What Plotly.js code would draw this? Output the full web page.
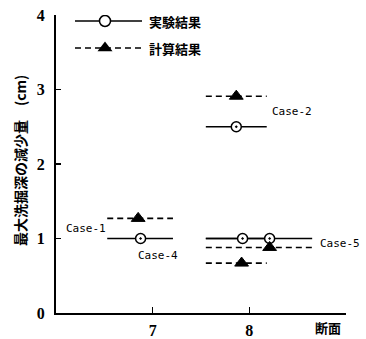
<!DOCTYPE html>
<html><head><meta charset="utf-8">
<script src="https://cdn.plot.ly/plotly-3.0.1.min.js"></script>
<style>html,body{margin:0;padding:0;background:#fff}</style>
</head><body><div id="chart" style="width:366px;height:339px"></div>
<script>
// Data
const cases      = ['Case-1', 'Case-2', 'Case-4', 'Case-5'];
const segStart   = [6.53, 7.55, 7.55, 7.55];
const segEnd     = [7.21, 8.18, 8.18, 8.65];
const expX       = [6.875, 7.865, 7.93, 8.21];
const expY       = [1.00, 2.50, 1.00, 1.00];
const calcX      = [6.85, 7.865, 7.92, 8.21];
const calcY      = [1.27, 2.91, 0.67, 0.88];
const xTickVals  = [7, 8];
const xTickText  = ['7', '8'];
const yTickVals  = [0, 1, 2, 3, 4];
const yTickText  = ['0', '1', '2', '3', '4'];
const legendNames = ['実験結果', '計算結果'];
const labelX = [6.31, 8.44, 7.06, 8.94];
const labelY = [1.13, 2.71, 0.77, 0.93];

function segs(ys) {
  const x = [], y = [];
  for (let i = 0; i < cases.length; i++) {
    x.push(segStart[i], segEnd[i], null);
    y.push(ys[i], ys[i], null);
  }
  return {x, y};
}
const eS = segs(expY), cS = segs(calcY);

const traces = [
  {x: eS.x, y: eS.y, mode: 'lines', line: {color: '#000', width: 1.6}, showlegend: false, hoverinfo: 'skip'},
  {x: cS.x, y: cS.y, mode: 'lines', line: {color: '#000', width: 1.6, dash: '6px,4px'}, showlegend: false, hoverinfo: 'skip'},
  {x: expX, y: expY, mode: 'markers', name: legendNames[0], showlegend: false,
   marker: {symbol: 'circle-dot', size: 10, color: '#fff', line: {color: '#000', width: 1.5}}},
  {x: calcX, y: calcY, mode: 'markers', name: legendNames[1], showlegend: false,
   marker: {symbol: 'triangle-up', size: 12, color: '#000', line: {color: '#000', width: 1}}},
  // custom legend samples (pixel-like overlay axis)
  {x: [75, 142], y: [21, 21], xaxis: 'x2', yaxis: 'y2', mode: 'lines', line: {color: '#000', width: 1.6}, showlegend: false, hoverinfo: 'skip'},
  {x: [105], y: [21], xaxis: 'x2', yaxis: 'y2', mode: 'markers', showlegend: false,
   marker: {symbol: 'circle', size: 11, color: '#fff', line: {color: '#000', width: 1.5}}},
  {x: [75, 142], y: [48, 48], xaxis: 'x2', yaxis: 'y2', mode: 'lines', line: {color: '#000', width: 1.6, dash: '6px,4px'}, showlegend: false, hoverinfo: 'skip'},
  {x: [105], y: [48], xaxis: 'x2', yaxis: 'y2', mode: 'markers', showlegend: false,
   marker: {symbol: 'triangle-up', size: 13, color: '#000'}}
];

const tickFont = {family: 'Liberation Serif', size: 16, color: '#000', weight: 'bold'};
const caseFont = {family: 'DejaVu Sans Mono', size: 11, color: '#000'};
const cjkFont  = {family: 'Noto Sans CJK JP', size: 13, color: '#000', weight: 'bold'};
const titleFont = {family: 'Noto Sans CJK JP', size: 14, color: '#000', weight: 'bold'};

const annotations = cases.map((c, i) => ({
  x: labelX[i], y: labelY[i], xref: 'x', yref: 'y', text: c, showarrow: false,
  font: caseFont, xanchor: 'center', yanchor: 'middle'
}));
annotations.push(
  {x: 147, y: 21, xref: 'x2', yref: 'y2', text: legendNames[0], showarrow: false, font: cjkFont, xanchor: 'left', yanchor: 'middle'},
  {x: 147, y: 48, xref: 'x2', yref: 'y2', text: legendNames[1], showarrow: false, font: cjkFont, xanchor: 'left', yanchor: 'middle'},
  {x: 8.81, y: -0.047, xref: 'x', yref: 'paper', text: '断面', showarrow: false, font: cjkFont, xanchor: 'center', yanchor: 'middle'},
  {x: -0.124, y: 0.51, xref: 'paper', yref: 'paper', text: '最大洗掘深の減少量\u2003(cm)', textangle: -90,
   showarrow: false, font: titleFont, xanchor: 'center', yanchor: 'middle'}
);

const layout = {
  width: 366, height: 339,
  margin: {l: 56, r: 20, t: 15, b: 26},
  paper_bgcolor: '#fff', plot_bgcolor: '#fff',
  showlegend: false,
  xaxis: {range: [6, 9], tickmode: 'array', tickvals: xTickVals, ticktext: xTickText,
    ticks: 'inside', ticklen: 6, tickwidth: 1.5, tickcolor: '#000',
    showline: true, linewidth: 2, linecolor: '#000', showgrid: false, zeroline: false,
    tickfont: tickFont, ticklabelstandoff: 2},
  yaxis: {range: [0, 4], tickmode: 'array', tickvals: yTickVals, ticktext: yTickText,
    ticks: 'inside', ticklen: 5, tickwidth: 1.5, tickcolor: '#000',
    showline: true, linewidth: 2, linecolor: '#000', showgrid: false, zeroline: false,
    tickfont: tickFont, ticklabelstandoff: 6},
  xaxis2: {overlaying: 'x', range: [56, 346], visible: false, fixedrange: true},
  yaxis2: {overlaying: 'y', range: [313, 15], visible: false, fixedrange: true},
  annotations: annotations
};

Plotly.newPlot('chart', traces, layout, {staticPlot: true, displayModeBar: false});
</script></body></html>
